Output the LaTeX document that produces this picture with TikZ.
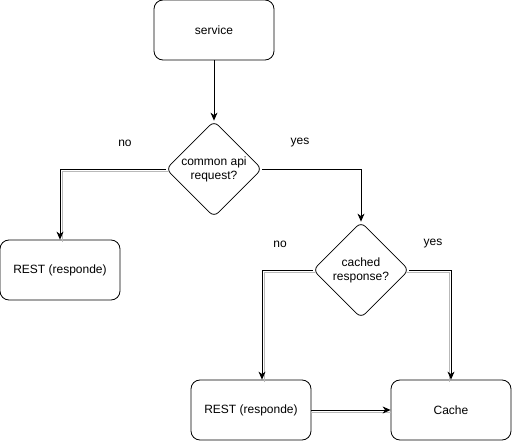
\documentclass[tikz,border=0pt]{standalone}
\usepackage{fontspec}
\setmainfont{Liberation Sans}
\usetikzlibrary{arrows.meta,positioning,calc,shapes.geometric}

\begin{document}
\begin{tikzpicture}[
  x=1pt, y=-1pt,
  procbox/.style={draw, line width=0.8pt, rounded corners=9pt, minimum width=120pt, minimum height=60pt, align=center, inner sep=2pt},
  decbox/.style={draw, line width=0.8pt, diamond, aspect=1, rounded corners=6pt, minimum width=96pt, minimum height=96pt, align=center, inner sep=0pt},
  edgelabel/.style={inner sep=1pt},
  arr/.style={-{Stealth[length=8pt, width=7pt, inset=2.5pt]}, line width=0.8pt},
  dblarr/.style={arr, preaction={draw=gray!55, -, line width=0.8pt, transform canvas={shift={#1}}}},
  every node/.style={font=\fontsize{12}{14}\selectfont}]
  \useasboundingbox (0,0) rectangle (512,441);
  % Start
  \node[procbox] (service) at (214,30) {service};
  % First question
  \node[decbox] (qapi) at (214,169) {common api\\request?};
  \draw[arr] (service.south) -- (qapi.north);
  % No branch, left
  \node[procbox] (restleft) at (60,270) {REST (responde)};
  \draw[dblarr={(2,2)}] (qapi.west) -| (restleft.north);
  \node[edgelabel] (noapi) at (125,143) {no};
  % Yes branch, right
  \node[decbox] (qcache) at (361,270) {cached\\response?};
  \draw[arr] (qapi.east) -| (qcache.north);
  \node[edgelabel] (yesapi) at (300,143) {yes};
  % Bottom row
  \node[procbox] (restbottom) at (251,410) {REST (responde)};
  \node[procbox] (cache) at (451,410) {Cache};
  \coordinate (restin) at ($(restbottom.north)+(11,0)$);
  \draw[dblarr={(2,2)}] (qcache.west) -| (restin);
  \node[edgelabel] (nocache) at (280,244) {no};
  \draw[dblarr={(-2,2)}] (qcache.east) -| (cache.north);
  \node[edgelabel] (yescache) at (433,244) {yes};
  \draw[dblarr={(0,2)}] (restbottom.east) -- (cache.west);
\end{tikzpicture}
\end{document}
